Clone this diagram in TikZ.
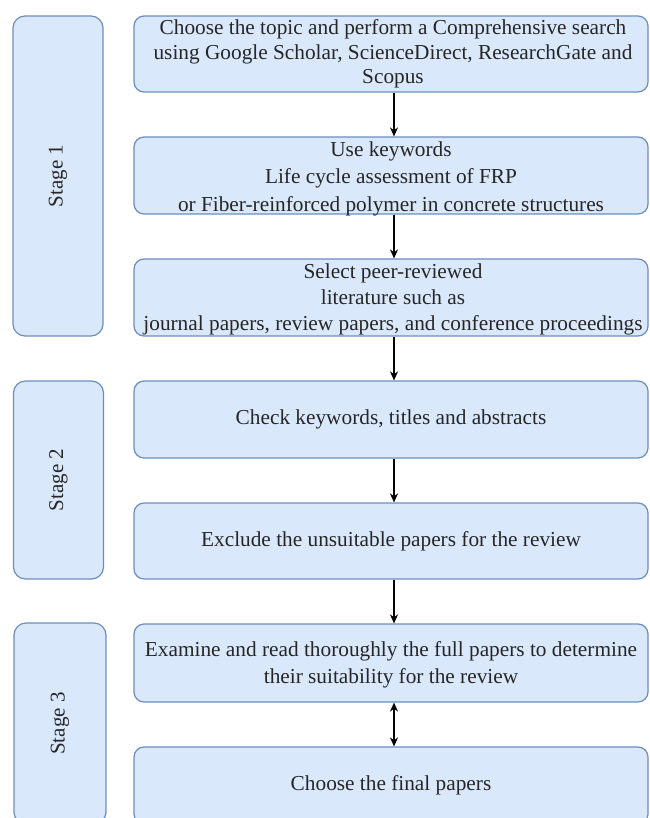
\documentclass[tikz,border=0pt]{standalone}
\usepackage{fontspec}
\setmainfont{Liberation Serif}
\usetikzlibrary{arrows.meta}
\definecolor{boxfill}{HTML}{DAE8FC}
\definecolor{boxline}{HTML}{6C8EBF}
\begin{document}
\begin{tikzpicture}[x=1pt,y=-1pt,
  stepbox/.style={draw=boxline, fill=boxfill, line width=1.2pt, rounded corners=10pt,
    minimum width=514pt, inner sep=0pt, align=center, text=black!85,
    font=\fontsize{21.3}{25.5}\selectfont},
  steptext/.style={align=center, inner sep=0pt, text=black!85},
  stagebox/.style={draw=boxline, fill=boxfill, line width=1.2pt, rounded corners=12pt,
    minimum width=90pt, inner sep=0pt},
  stagetext/.style={rotate=90, text=black!85, font=\fontsize{21}{25}\selectfont},
  conn/.style={line width=1.4pt, -{Stealth[length=9pt,width=8pt]}},
  bconn/.style={line width=1.4pt, {Stealth[length=9pt,width=8pt]}-{Stealth[length=9pt,width=8pt]}}]
\useasboundingbox (0,0) rectangle (649,818);
% stage boxes
\node[stagebox, minimum height=320pt] (s1) at (58,176) {};
\node[stagetext] (s1t) at (s1.center) {Stage 1};
\node[stagebox, minimum height=198pt] (s2) at (58.5,480) {};
\node[stagetext] (s2t) at (s2.center) {Stage 2};
\node[stagebox, minimum height=201pt, minimum width=92pt] (s3) at (60,723.5) {};
\node[stagetext] (s3t) at (s3.center) {Stage 3};
% step boxes
\node[stepbox, minimum height=76pt] (b1) at (391,54) {};
\node[steptext, font=\fontsize{21.3}{24.5}\selectfont] (t1) at (393,54)
  {Choose the topic and perform a Comprehensive search\\using Google Scholar, ScienceDirect, ResearchGate and\\Scopus};
\node[stepbox, minimum height=77pt] (b2) at (391,175.5) {};
\node[steptext, font=\fontsize{21.3}{27.5}\selectfont] (t2) at (391,178.5)
  {Use keywords\\Life cycle assessment of FRP\\or Fiber-reinforced polymer in concrete structures};
\node[stepbox, minimum height=77pt] (b3) at (391,297.5) {};
\node[steptext, font=\fontsize{21.3}{26}\selectfont] (t3) at (393,299)
  {Select peer-reviewed\\literature such as\\journal papers, review papers, and conference proceedings};
\node[stepbox, minimum height=77pt] (b4) at (391,419.5) {Check keywords, titles and abstracts};
\node[stepbox, minimum height=76pt] (b5) at (391,541) {Exclude the unsuitable papers for the review};
\node[stepbox, minimum height=78pt] (b6) at (391,663) {};
\node[steptext, font=\fontsize{21.3}{27}\selectfont] (t6) at (391,665)
  {Examine and read thoroughly the full papers to determine\\their suitability for the review};
\node[stepbox, minimum height=77pt] (b7) at (391,785.5) {Choose the final papers};
% connectors
\draw[conn] (b1.south -| 394,0) -- (b2.north -| 394,0);
\draw[conn] (b2.south -| 394,0) -- (b3.north -| 394,0);
\draw[conn] (b3.south -| 394,0) -- (b4.north -| 394,0);
\draw[conn] (b4.south -| 394,0) -- (b5.north -| 394,0);
\draw[conn] (b5.south -| 394,0) -- (b6.north -| 394,0);
\draw[bconn] (b6.south -| 394,0) -- (b7.north -| 394,0);
\end{tikzpicture}
\end{document}
